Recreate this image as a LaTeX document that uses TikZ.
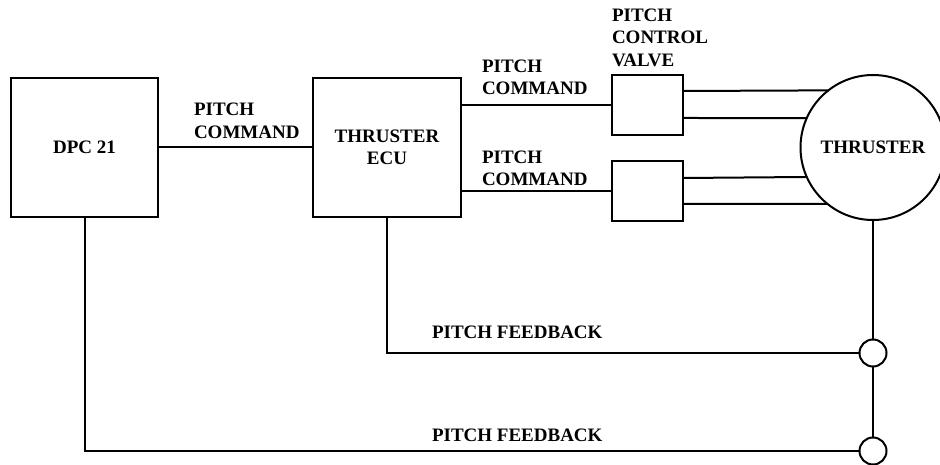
\documentclass[tikz,border=0pt]{standalone}
\usepackage{fontspec}
\setmainfont{Liberation Serif}
\begin{document}
\begin{tikzpicture}[x=1pt,y=-1pt,
  every node/.style={font=\bfseries\fontsize{19}{22.5}\selectfont, inner sep=0pt, outer sep=0pt},
  blk/.style={draw, line width=2pt, rectangle},
  wire/.style={line width=2pt},
  lbl/.style={align=left, anchor=west},
  junc/.style={draw, line width=2pt, circle, minimum size=27pt, fill=white}
]
\useasboundingbox (0,0) rectangle (940,465);
% blocks
\node[blk, minimum width=147pt, minimum height=139pt] (dpc) at (84.5,147.5) {DPC 21};
\node[blk, minimum width=148pt, minimum height=139pt, align=center] (ecu) at (387,147.5) {THRUSTER\\ECU};
\node[blk, minimum width=71pt, minimum height=60pt] (v1) at (647.5,105) {};
\node[blk, minimum width=71pt, minimum height=60pt] (v2) at (647.5,191) {};
\node[draw, line width=2pt, circle, minimum size=145pt] (thr) at (873,147.5) {THRUSTER};
\node[junc] (fb1) at (873,353) {};
\node[junc] (fb2) at (873,451) {};
% labels
\node[lbl] (l0) at (194,121) {PITCH\\COMMAND};
\node[lbl] (l1) at (482,77.5) {PITCH\\COMMAND};
\node[lbl] (l2) at (482,168.5) {PITCH\\COMMAND};
\node[lbl] (lv) at (612,37.5) {PITCH\\CONTROL\\VALVE};
\node[lbl] (lf1) at (432,332) {PITCH FEEDBACK};
\node[lbl] (lf2) at (432,435) {PITCH FEEDBACK};
% connectors
\draw[wire] (dpc.east) -- (ecu.west);
\draw[wire] (ecu.east |- v1.west) -- (v1.west);
\draw[wire] (ecu.east |- v2.west) -- (v2.west);
\draw[wire] ([yshift=14pt]v1.east) -- (thr.128.8);
\draw[wire] ([yshift=-13pt]v1.east) -- (thr.156);
\draw[wire] ([yshift=13pt]v2.east) -- (thr.204.9);
\draw[wire] ([yshift=-13pt]v2.east) -- (thr.231.2);
\draw[wire] (thr.south) -- (fb1.north);
\draw[wire] (fb1.south) -- (fb2.north);
\draw[wire] (ecu.south) |- (fb1.west);
\draw[wire] (dpc.south) |- (fb2.west);
\end{tikzpicture}
\end{document}
